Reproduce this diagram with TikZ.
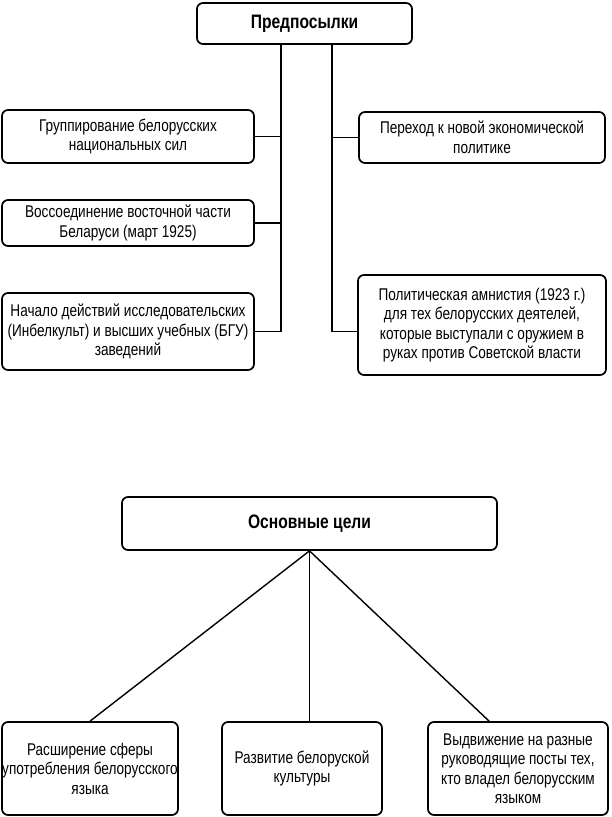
\documentclass[tikz,border=0pt]{standalone}
\usepackage{fontspec}
\setmainfont{Liberation Sans}[FakeStretch=0.8]
\begin{document}
\begin{tikzpicture}[x=1pt,y=-1pt,
  box/.style={draw, line width=1.7pt, rounded corners=6pt, inner sep=0pt, align=center,
    font=\fontsize{17}{19.5}\selectfont},
  titlebox/.style={box, font=\fontsize{19.5}{22}\selectfont\bfseries},
  conn/.style={line width=1.7pt},
  diag/.style={line width=1.4pt}]
\useasboundingbox (0,0) rectangle (612,817);
% top part
\node[titlebox, minimum width=215pt, minimum height=41pt] (P) at (304.5,23.5) {Предпосылки};
\node[box, minimum width=252pt, minimum height=53pt] (L1) at (128,136.5) {Группирование белорусских\\национальных сил};
\node[box, minimum width=252pt, minimum height=46pt] (L2) at (128,223) {Воссоединение восточной части\\Беларуси (март 1925)};
\node[box, minimum width=252pt, minimum height=77pt] (L3) at (128,331.5) {Начало действий исследовательских\\(Инбелкульт) и высших учебных (БГУ)\\заведений};
\node[box, minimum width=246pt, minimum height=51pt] (R1) at (482,137.5) {Переход к новой экономической\\политике};
\node[box, minimum width=248pt, minimum height=100pt] (R2) at (482,325) {Политическая амнистия (1923 г.)\\для тех белорусских деятелей,\\которые выступали с оружием в\\руках против Советской власти};
\coordinate (lx) at (281,44);
\coordinate (rx) at (332,44);
\coordinate (r2in) at (R2.west |- L3.east);
\draw[conn] (lx) |- (L3.east);
\draw[conn] (L1.east) -- (L1.east -| lx);
\draw[conn] (L2.east) -- (L2.east -| lx);
\draw[conn] (rx) |- (r2in);
\draw[conn] (R1.west) -- (R1.west -| rx);
% bottom part
\node[titlebox, minimum width=375pt, minimum height=53pt] (O) at (309.5,523.5) {Основные цели};
\node[box, minimum width=176pt, minimum height=93pt] (B1) at (90,768.5) {Расширение сферы\\употребления белорусского\\языка};
\node[box, minimum width=160pt, minimum height=93pt] (B2) at (302,768.5) {Развитие белоруской\\культуры};
\node[box, minimum width=180pt, minimum height=93pt] (B3) at (518,768.5) {Выдвижение на разные\\руководящие посты тех,\\кто владел белорусским\\языком};
\coordinate (b3in) at (490,722);
\draw[diag] (O.south) -- (B1.north);
\draw[diag] (O.south) -- (O.south |- B2.north);
\draw[diag] (O.south) -- (b3in);
\end{tikzpicture}
\end{document}
